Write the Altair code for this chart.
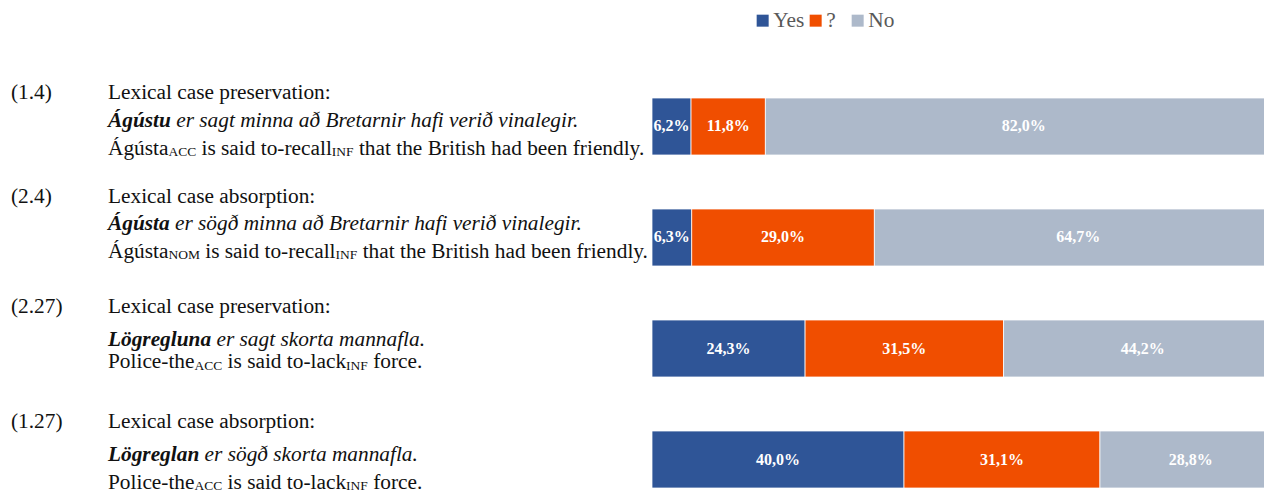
import altair as alt
import pandas as pd

# ---------------- data ----------------
items = ["(1.4)", "(2.4)", "(2.27)", "(1.27)"]
answers = ["Yes", "?", "No"]
yes_pct = [6.2, 6.3, 24.3, 40.0]
unsure_pct = [11.8, 29.0, 31.5, 31.1]
no_pct = [82.0, 64.7, 44.2, 28.8]

headings = ["Lexical case preservation:", "Lexical case absorption:",
            "Lexical case preservation:", "Lexical case absorption:"]
bold_words = ["Ágústu", "Ágústa", "Lögregluna", "Lögreglan"]
italic_rest = ["er sagt minna að Bretarnir hafi verið vinalegir.",
               "er sögð minna að Bretarnir hafi verið vinalegir.",
               "er sagt skorta mannafla.",
               "er sögð skorta mannafla."]
gloss_subject = ["Ágústa", "Ágústa", "Police-the", "Police-the"]
gloss_case = ["ACC", "NOM", "ACC", "ACC"]
gloss_verb = ["is said to-recall", "is said to-recall", "is said to-lack", "is said to-lack"]
gloss_mood = ["INF", "INF", "INF", "INF"]
gloss_rest = ["that the British had been friendly.", "that the British had been friendly.",
              "force.", "force."]

# ---------------- styles / layout ----------------
colors = ["#2F5597", "#F04E00", "#ADB9CA"]
FONT = "Liberation Serif"
FS = 21.33
SUB_FS = 13.5
SUB_DROP = 1.5
NUM_X = -641
TXT_X = -544
# baseline offsets of the three annotation lines, relative to top of each bar
line_offsets = [[0.5, 28.5, 56.5], [-6, 21, 48.5], [-7, 25.5, 48], [-3, 30, 57.5]]

# Times-compatible advance widths (1/1000 em) for measuring text fragments
REG = {' ': 250, '-': 333, '.': 250, 'A': 722, 'B': 667, 'C': 667, 'F': 556, 'I': 333,
       'M': 889, 'N': 722, 'O': 722, 'P': 556, 'a': 444, 'b': 500, 'c': 444, 'd': 500,
       'e': 444, 'f': 333, 'g': 500, 'h': 500, 'i': 278, 'k': 500, 'l': 278, 'n': 500,
       'o': 500, 'r': 333, 's': 389, 't': 278, 'u': 500, 'y': 500, 'Á': 722, 'ú': 500}
BI = {'L': 611, 'Á': 667, 'a': 500, 'e': 444, 'g': 500, 'l': 278, 'n': 556, 'r': 389,
      's': 389, 't': 278, 'u': 556, 'ú': 556, 'ö': 500}


def width(txt, table, size):
    return sum(table.get(ch, 500) for ch in txt) * size / 1000.0


SPACE = 250 * FS / 1000.0

# ---------------- tables ----------------
bar_rows = []
for i, it in enumerate(items):
    for j, (a, vals) in enumerate(zip(answers, [yes_pct, unsure_pct, no_pct])):
        bar_rows.append(dict(item=it, answer=a, order=j, pct=vals[i]))
bars_df = pd.DataFrame(bar_rows)

frag_rows = []
for i, it in enumerate(items):
    o = line_offsets[i]
    frag_rows.append(dict(item=it, style="reg", text=it, x=NUM_X, dy=o[0]))
    frag_rows.append(dict(item=it, style="reg", text=headings[i], x=TXT_X, dy=o[0]))
    frag_rows.append(dict(item=it, style="bi", text=bold_words[i], x=TXT_X, dy=o[1]))
    xx = TXT_X + width(bold_words[i], BI, FS) + SPACE
    frag_rows.append(dict(item=it, style="it", text=italic_rest[i], x=xx, dy=o[1]))
    xx = TXT_X
    parts = [(gloss_subject[i], "reg", False), (gloss_case[i], "sub", False),
             (gloss_verb[i], "reg", True), (gloss_mood[i], "sub", False),
             (gloss_rest[i], "reg", True)]
    for txt, st, lead_space in parts:
        if lead_space:
            xx += SPACE
        frag_rows.append(dict(item=it, style=st, text=txt, x=xx,
                              dy=o[2] + (SUB_DROP if st == "sub" else 0)))
        xx += width(txt, REG, FS if st == "reg" else SUB_FS)
frag_df = pd.DataFrame(frag_rows)

# ---------------- chart ----------------
# plot area is 612 px wide; full 100 % would span ~630 px (cut at the right edge)
xscale = alt.Scale(domain=[0, 97.14], nice=False, zero=True)
yscale = alt.Scale(domain=items, paddingInner=0.4865, paddingOuter=0)

base = alt.Chart(bars_df).transform_stack(
    stack="pct", groupby=["item"], sort=[alt.SortField("order", order="ascending")],
    as_=["x0", "x1"]
).transform_calculate(
    mid="(datum.x0 + datum.x1) / 2",
    label="replace(format(datum.pct, '.1f'), '.', ',') + '%'"
)

bars = base.mark_bar(clip=True, stroke="white", strokeWidth=0.75).encode(
    x=alt.X("x0:Q", scale=xscale, axis=None),
    x2="x1:Q",
    y=alt.Y("item:N", scale=yscale, axis=None),
    color=alt.Color(
        "answer:N",
        scale=alt.Scale(domain=answers, range=colors),
        legend=alt.Legend(
            title=None, orient="none", legendX=100, legendY=-88,
            direction="horizontal", symbolType="square", symbolSize=144,
            symbolStrokeWidth=0, labelFont=FONT, labelFontSize=FS,
            labelColor="#595959", labelOffset=0, columnPadding=0,
            labelExpr="datum.label == '?' ? '?\u00a0\u00a0\u200b' : datum.label",
        ),
    ),
)

labels = base.mark_text(font=FONT, fontWeight="bold", fontSize=16, color="white").encode(
    x=alt.X("mid:Q", scale=xscale, axis=None),
    y=alt.Y("item:N", scale=yscale, axis=None),
    text="label:N",
)


def text_layer(style, **kw):
    return alt.Chart(frag_df).transform_filter(alt.datum.style == style).mark_text(
        align="left", baseline="alphabetic", font=FONT, color="#111111", **kw
    ).encode(
        x=alt.X("x:Q", scale=None, axis=None),
        y=alt.Y("item:N", scale=yscale, axis=None),
        yOffset=alt.YOffset("dy:Q", scale=None),
        text="text:N",
    )


t_reg = text_layer("reg", fontSize=FS)
t_sub = text_layer("sub", fontSize=SUB_FS)
t_bi = text_layer("bi", fontSize=FS, fontWeight="bold", fontStyle="italic")
t_it = text_layer("it", fontSize=FS, fontStyle="italic")

chart = alt.layer(bars, labels, t_reg, t_sub, t_bi, t_it).properties(
    width=612, height=390,
    padding={"left": 644, "top": 90, "right": 0, "bottom": 10},
    autosize=alt.AutoSizeParams(type="none"),
    background="white",
).configure_view(stroke=None)

chart.save("out.html", embed_options={"renderer": "svg", "actions": False})
